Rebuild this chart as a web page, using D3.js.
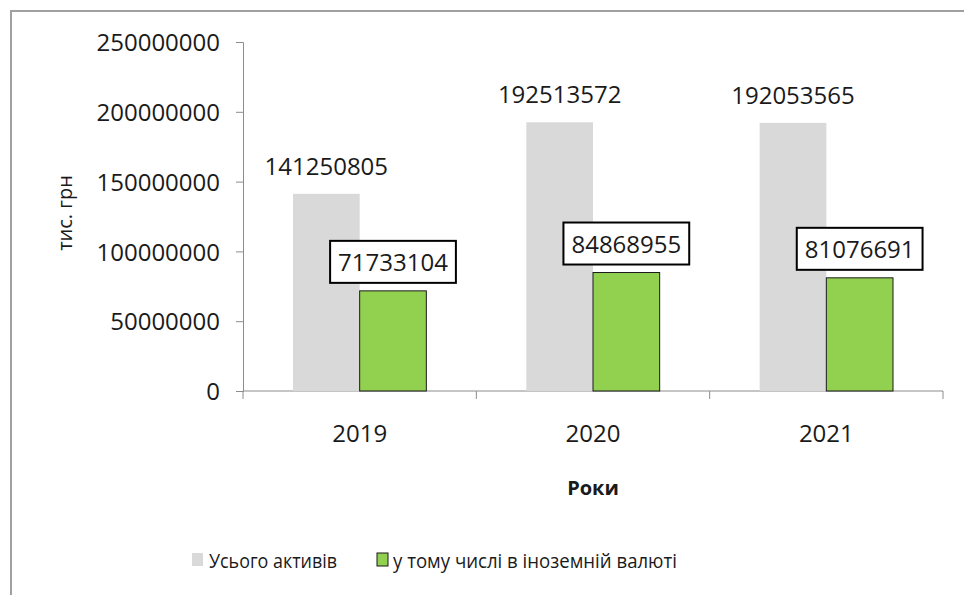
<!DOCTYPE html>
<html>
<head>
<meta charset="utf-8">
<script src="https://cdn.jsdelivr.net/npm/d3@7"></script>
<style>
  body { margin: 0; background: #fff; }
  svg text { font-family: "Open Sans", "Noto Sans", sans-serif; fill: #1a1a1a; }
</style>
</head>
<body>
<svg id="chart" width="964" height="595"></svg>
<script>
// chart data
const years = ["2019", "2020", "2021"];
const seriesNames = ["Усього активів", "у тому числі в іноземній валюті"];
const totalAssets = [141250805, 192513572, 192053565];
const foreignCurrency = [71733104, 84868955, 81076691];
const yTicks = [0, 50000000, 100000000, 150000000, 200000000, 250000000];

const colors = ["#d9d9d9", "#92d050"];

const plot = {left: 243, right: 943, top: 42, bottom: 391};

const svg = d3.select('#chart');

// frame (only left and top edges are visible in the screenshot)
svg.append('path')
  .attr('d', 'M11,595 V11 H964')
  .attr('fill', 'none')
  .attr('stroke', '#a0a0a0')
  .attr('stroke-width', 2);

const x = d3.scaleBand() //one band per year
  .domain(years)
  .range([plot.left, plot.right])
  .paddingInner(0)
  .paddingOuter(0);

const xInner = d3.scaleBand() //two bars inside each year
  .domain(seriesNames)
  .range([0, x.bandwidth()])
  .paddingInner(0)
  .paddingOuter(0.75);

const y = d3.scaleLinear()
  .domain([0, 250000000])
  .range([plot.bottom, plot.top]);

//y axis
const yAxis = svg.append('g')
  .attr('transform', `translate(${plot.left},0)`)
  .call(d3.axisLeft(y).tickValues(yTicks).tickFormat(d3.format('d')).tickSize(7).tickPadding(16));
yAxis.select('.domain').attr('stroke', '#8c8c8c');
yAxis.selectAll('.tick line').attr('stroke', '#8c8c8c');
yAxis.selectAll('.tick text')
  .style('font-size', '24px')
  .attr('dy', '0.36em');

//x axis - ticks sit on the category boundaries like in excel
const xAxis = svg.append('g')
  .attr('transform', `translate(0,${plot.bottom})`);
xAxis.append('line')
  .attr('x1', plot.left).attr('x2', plot.right)
  .attr('stroke', '#8c8c8c');
const bounds = years.map(d => x(d)).concat([x(years[years.length - 1]) + x.bandwidth()]);
xAxis.selectAll('line.tk')
  .data(bounds)
  .enter().append('line')
  .attr('class', 'tk')
  .attr('x1', d => d).attr('x2', d => d)
  .attr('y1', 0).attr('y2', 8)
  .attr('stroke', '#8c8c8c');
xAxis.selectAll('text')
  .data(years)
  .enter().append('text')
  .attr('x', d => x(d) + x.bandwidth() / 2)
  .attr('y', 51)
  .attr('text-anchor', 'middle')
  .style('font-size', '24px')
  .text(d => d);

//bars
const rows = years.map((yr, i) => ({year: yr, values: [totalAssets[i], foreignCurrency[i]]}));

const groups = svg.selectAll('g.year')
  .data(rows)
  .enter().append('g')
  .attr('class', 'year')
  .attr('transform', d => `translate(${x(d.year)},0)`);

groups.selectAll('rect')
  .data(d => d.values.map((v, j) => ({name: seriesNames[j], value: v, j: j})))
  .enter().append('rect')
  .attr('x', d => xInner(d.name))
  .attr('y', d => y(d.value))
  .attr('width', xInner.bandwidth())
  .attr('height', d => plot.bottom - y(d.value))
  .attr('fill', d => colors[d.j])
  .attr('stroke', d => d.j === 1 ? '#1a1a1a' : 'none')
  .attr('stroke-width', 1);

//labels on the grey bars
groups.append('text')
  .attr('x', xInner(seriesNames[0]) + xInner.bandwidth() / 2)
  .attr('y', d => y(d.values[0]) - 19)
  .attr('text-anchor', 'middle')
  .style('font-size', '24px')
  .text(d => d.values[0]);

//boxed labels on the green bars
groups.each(function(d) {
  const g = d3.select(this);
  const cx = xInner(seriesNames[1]) + xInner.bandwidth() / 2;
  const boxBottom = y(d.values[1]) - 8;
  const box = g.append('rect')
    .attr('fill', '#fff')
    .attr('stroke', '#000')
    .attr('stroke-width', 2);
  const t = g.append('text')
    .attr('x', cx)
    .attr('y', boxBottom - 12)
    .attr('text-anchor', 'middle')
    .style('font-size', '24px')
    .text(d.values[1]);
  const w = t.node().getComputedTextLength() + 16;
  box.attr('x', cx - w / 2)
    .attr('y', boxBottom - 42)
    .attr('width', w)
    .attr('height', 42);
});

//axis titles
svg.append('text')
  .attr('transform', `translate(72,213) rotate(-90)`)
  .attr('text-anchor', 'middle')
  .style('font-size', '20px')
  .text('тис. грн');

svg.append('text')
  .attr('x', (plot.left + plot.right) / 2)
  .attr('y', 495)
  .attr('text-anchor', 'middle')
  .style('font-size', '20px')
  .style('font-weight', 'bold')
  .text('Роки');

//legend
const legendX = [192, 377];
const legendTextLen = [128, 284]; //narrow font in the original, squeeze to match
const legend = svg.selectAll('g.legend')
  .data(seriesNames)
  .enter().append('g')
  .attr('class', 'legend')
  .attr('transform', (d, i) => `translate(${legendX[i]},553)`);
legend.append('rect')
  .attr('width', 11).attr('height', 13)
  .attr('fill', (d, i) => colors[i])
  .attr('stroke', (d, i) => i === 1 ? '#1a1a1a' : 'none');
legend.append('text')
  .attr('x', (d, i) => i === 0 ? 17 : 16)
  .attr('y', 15)
  .attr('textLength', (d, i) => legendTextLen[i])
  .attr('lengthAdjust', 'spacingAndGlyphs')
  .style('font-size', '20px')
  .text(d => d);
</script>
</body>
</html>
